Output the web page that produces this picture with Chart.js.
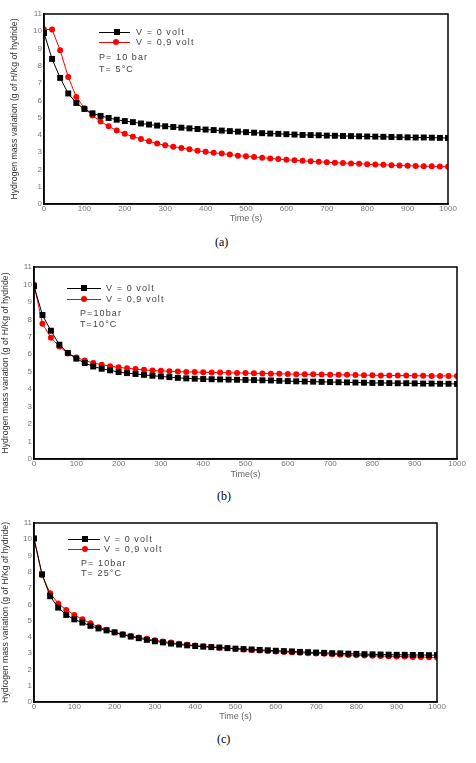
<!DOCTYPE html>
<html>
<head>
<meta charset="utf-8">
<script src="https://cdn.jsdelivr.net/npm/chart.js@4.4.1/dist/chart.umd.min.js"></script>
<style>
    body { margin: 0; background: #fff; width: 476px; height: 763px; position: relative; overflow: hidden; }
    canvas { position: absolute; left: 0; }
    .txt { position: absolute; font-family: 'Liberation Sans', Arial, sans-serif; font-size: 9px; color: #444; letter-spacing: 1.1px; white-space: nowrap; line-height: 10px; }
    .cap { position: absolute; font-family: 'Liberation Serif', 'DejaVu Serif', serif; font-size: 12px; color: #000; }
    .lk { position: absolute; height: 1px; }
    .mk { position: absolute; }
</style>
</head>
<body>
<canvas id="chart_a" width="476" height="230" style="top:0px"></canvas>
<canvas id="chart_b" width="476" height="232" style="top:253px"></canvas>
<canvas id="chart_c" width="476" height="220" style="top:509px"></canvas>

<!-- legend (a) -->
<div class="lk" style="left:99px;top:32px;width:31px;background:#000"></div>
<div class="mk" style="left:114px;top:29px;width:6px;height:6px;background:#000"></div>
<div class="txt" style="left:136px;top:27px">V = 0 volt</div>
<div class="lk" style="left:99px;top:42px;width:31px;background:#f00"></div>
<div class="mk" style="left:113px;top:39px;width:6px;height:6px;border-radius:3px;background:#f00"></div>
<div class="txt" style="left:136px;top:37px">V = 0,9 volt</div>
<div class="txt" style="left:99px;top:52px">P= 10 bar</div>
<div class="txt" style="left:99px;top:64px">T= 5°C</div>
<div class="cap" style="left:215px;top:235px">(a)</div>

<!-- legend (b) -->
<div class="lk" style="left:67px;top:288px;width:34px;background:#000"></div>
<div class="mk" style="left:81px;top:285px;width:6px;height:6px;background:#000"></div>
<div class="txt" style="left:106px;top:283px">V = 0 volt</div>
<div class="lk" style="left:67px;top:299px;width:34px;background:#f00"></div>
<div class="mk" style="left:81px;top:296px;width:6px;height:6px;border-radius:3px;background:#f00"></div>
<div class="txt" style="left:106px;top:294px">V = 0,9 volt</div>
<div class="txt" style="left:80px;top:308px">P=10bar</div>
<div class="txt" style="left:80px;top:319px">T=10°C</div>
<div class="cap" style="left:217px;top:489px">(b)</div>

<!-- legend (c) -->
<div class="lk" style="left:68px;top:539px;width:32px;background:#000"></div>
<div class="mk" style="left:82px;top:536px;width:6px;height:6px;background:#000"></div>
<div class="txt" style="left:104px;top:534px">V = 0 volt</div>
<div class="lk" style="left:68px;top:549px;width:32px;background:#f00"></div>
<div class="mk" style="left:82px;top:546px;width:6px;height:6px;border-radius:3px;background:#f00"></div>
<div class="txt" style="left:104px;top:544px">V = 0,9 volt</div>
<div class="txt" style="left:81px;top:558px">P= 10bar</div>
<div class="txt" style="left:81px;top:568px">T= 25°C</div>
<div class="cap" style="left:217px;top:732px">(c)</div>

<script>
let times = [0, 20, 40, 60, 80, 100, 120, 140, 160, 180, 200, 220, 240, 260, 280, 300, 320, 340, 360, 380,
    400, 420, 440, 460, 480, 500, 520, 540, 560, 580, 600, 620, 640, 660, 680, 700, 720, 740, 760, 780,
    800, 820, 840, 860, 880, 900, 920, 940, 960, 980, 1000];

// (a) T = 5 C
let blackA = [9.9, 8.4, 7.3, 6.4, 5.85, 5.5, 5.25, 5.1, 4.98, 4.88, 4.8, 4.74, 4.66, 4.6, 4.54, 4.5, 4.46, 4.42, 4.38, 4.34,
    4.31, 4.28, 4.25, 4.22, 4.19, 4.16, 4.13, 4.1, 4.08, 4.06, 4.04, 4.02, 4.0, 3.99, 3.98, 3.96, 3.95, 3.94, 3.93, 3.92,
    3.91, 3.9, 3.89, 3.88, 3.87, 3.86, 3.85, 3.85, 3.84, 3.83, 3.82];
let redA = [10.1, 10.1, 8.9, 7.35, 6.2, 5.55, 5.12, 4.78, 4.5, 4.25, 4.06, 3.9, 3.76, 3.63, 3.5, 3.4, 3.32, 3.24, 3.17, 3.08,
    3.02, 2.96, 2.92, 2.86, 2.8, 2.76, 2.72, 2.68, 2.64, 2.6, 2.56, 2.53, 2.5, 2.47, 2.44, 2.42, 2.39, 2.37, 2.35, 2.33,
    2.3, 2.28, 2.27, 2.25, 2.23, 2.22, 2.2, 2.19, 2.18, 2.17, 2.16];

// (b) T = 10 C
let blackB = [9.9, 8.25, 7.35, 6.55, 6.08, 5.75, 5.5, 5.3, 5.17, 5.08, 4.98, 4.92, 4.87, 4.82, 4.77, 4.73, 4.69, 4.65, 4.62, 4.6,
    4.58, 4.57, 4.56, 4.55, 4.54, 4.53, 4.52, 4.51, 4.5, 4.48, 4.46, 4.45, 4.44, 4.43, 4.42, 4.41, 4.4, 4.39, 4.38, 4.37,
    4.36, 4.36, 4.35, 4.34, 4.34, 4.33, 4.32, 4.32, 4.31, 4.31, 4.3];
let redB = [10.0, 7.75, 6.95, 6.45, 6.05, 5.82, 5.65, 5.5, 5.4, 5.32, 5.25, 5.2, 5.15, 5.11, 5.07, 5.05, 5.03, 5.01, 4.99, 4.98,
    4.97, 4.96, 4.95, 4.94, 4.93, 4.92, 4.91, 4.9, 4.89, 4.88, 4.87, 4.86, 4.85, 4.85, 4.84, 4.83, 4.82, 4.82, 4.81, 4.8,
    4.8, 4.79, 4.79, 4.78, 4.78, 4.77, 4.77, 4.76, 4.76, 4.76, 4.75];

// (c) T = 25 C
let blackC = [10.05, 7.85, 6.5, 5.8, 5.35, 5.08, 4.88, 4.68, 4.52, 4.4, 4.28, 4.14, 4.02, 3.92, 3.82, 3.73, 3.66, 3.59, 3.53, 3.48,
    3.44, 3.4, 3.37, 3.35, 3.31, 3.28, 3.25, 3.23, 3.2, 3.18, 3.15, 3.13, 3.11, 3.08, 3.06, 3.04, 3.02, 3.0, 2.99, 2.97,
    2.96, 2.94, 2.93, 2.92, 2.91, 2.9, 2.9, 2.89, 2.89, 2.88, 2.88];
let redC = [10.05, 7.8, 6.68, 6.06, 5.66, 5.35, 5.08, 4.84, 4.6, 4.44, 4.28, 4.17, 4.06, 3.97, 3.88, 3.8, 3.72, 3.65, 3.58, 3.52,
    3.47, 3.42, 3.38, 3.34, 3.3, 3.26, 3.22, 3.19, 3.16, 3.13, 3.1, 3.07, 3.05, 3.02, 3.0, 2.98, 2.96, 2.93, 2.91, 2.89,
    2.87, 2.86, 2.84, 2.83, 2.81, 2.8, 2.79, 2.77, 2.76, 2.75, 2.73];

let yTitle = 'Hydrogen mass variation (g of H/Kg of hydride)';

// box round the plot area
const framePlugin = {
    id: 'frame',
    afterDatasetsDraw(chart) {
        let a = chart.chartArea;
        let ctx = chart.ctx;
        ctx.save();
        ctx.strokeStyle = '#000';
        ctx.lineWidth = 1.5;
        ctx.strokeRect(a.left, a.top, a.right - a.left, a.bottom - a.top);
        ctx.restore();
    }
};

function toPoints(ys) {
    return times.map((t, i) => ({ x: t, y: ys[i] }));
}

//=======================================================//
function showChart(id, black, red, opt) {
    let ctx = document.getElementById(id).getContext('2d');
    let tickFont = { family: "'Liberation Sans', Arial, sans-serif", size: 8 };

    return new Chart(ctx, {
        type: 'line',
        data: {
            datasets: [
                {
                    label: 'V = 0 volt',
                    data: toPoints(black),
                    borderColor: '#000',
                    backgroundColor: '#000',
                    borderWidth: 1,
                    pointStyle: 'rect',
                    pointRadius: 4.2,
                    pointBorderWidth: 0,
                    tension: 0
                },
                {
                    label: 'V = 0,9 volt',
                    data: toPoints(red),
                    borderColor: '#ff0000',
                    backgroundColor: '#ff0000',
                    borderWidth: 1,
                    pointStyle: 'circle',
                    pointRadius: 3,
                    pointBorderWidth: 0,
                    tension: 0
                }
            ]
        },
        options: {
            responsive: false,
            animation: false,
            layout: { padding: opt.padding },
            scales: {
                x: {
                    type: 'linear',
                    min: 0,
                    max: 1000,
                    afterFit: (s) => { s.height = opt.xHeight; },
                    ticks: { stepSize: 100, color: '#777', font: tickFont, padding: 0, maxRotation: 0,
                        callback: (v) => String(v) },
                    grid: { drawOnChartArea: false, drawTicks: false, tickLength: 0 },
                    border: { color: '#000', width: 1.5 },
                    title: {
                        display: true,
                        text: opt.xTitle,
                        color: '#666',
                        font: { family: "'Liberation Sans', Arial, sans-serif", size: 9 },
                        padding: { top: 2, bottom: 2 }
                    }
                },
                y: {
                    min: 0,
                    max: 11,
                    afterFit: (s) => { s.width = opt.yWidth; },
                    ticks: { stepSize: 1, color: '#777', font: tickFont, padding: 2 },
                    grid: { drawOnChartArea: false, drawTicks: false, tickLength: 0 },
                    border: { color: '#000', width: 1.5 },
                    title: {
                        display: true,
                        text: yTitle,
                        color: '#333',
                        font: { family: "'Liberation Sans', Arial, sans-serif", size: 8.7 },
                        padding: opt.yTitlePad
                    }
                }
            },
            plugins: {
                legend: { display: false },
                tooltip: { enabled: false }
            }
        },
        plugins: [framePlugin]
    });
}

showChart('chart_a', blackA, redA, {
    padding: { left: 5, top: 14, right: 28, bottom: 4 },
    yWidth: 39, xHeight: 22, xTitle: 'Time (s)', yTitlePad: { top: 4, bottom: 0 }
});
showChart('chart_b', blackB, redB, {
    padding: { left: 0, top: 14, right: 19, bottom: 3 },
    yWidth: 34, xHeight: 23, xTitle: 'Time(s)', yTitlePad: { top: 0, bottom: 0 }
});
showChart('chart_c', blackC, redC, {
    padding: { left: 0, top: 14, right: 39, bottom: 5 },
    yWidth: 34, xHeight: 22, xTitle: 'Time (s)', yTitlePad: { top: 0, bottom: 0 }
});
</script>
</body>
</html>
